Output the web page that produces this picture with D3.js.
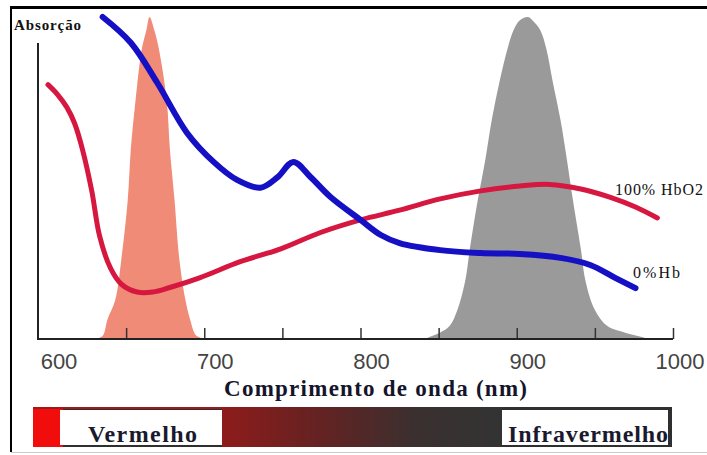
<!DOCTYPE html>
<html>
<head>
<meta charset="utf-8">
<script src="https://cdn.jsdelivr.net/npm/d3@7"></script>
<style>
  body { margin: 0; background: #fff; }
  svg { display: block; }
</style>
</head>
<body>
<div id="chart"></div>
<script>
// LED emission spectra (nm, relative intensity)
const redLed = [[630,0],[635,1],[638,6],[643,12],[647,25],[651,43],[653,59],[656,74],[660,90],[663,96],[665,100],
  [668,96],[671,90],[676,74],[678,59],[681,43],[684,25],[688,12],[691,6],[695,1],[702,0]];
const irLed = [[841,0],[851,2],[857,4],[862,9],[867,18],[870,28],[875,43],[880,56],[884,68],[889,80],[894,90],
  [898,96],[902,99],[907,100],[910,99],[915,96],[919,90],[923,80],[928,68],[932,56],[936,43],[941,28],
  [944,18],[950,9],[958,4],[969,2],[985,0]];

// absorption curves (nm, arbitrary units)
const hbo2 = [[600,79],[606,76],[612,72],[617,67],[622,59],[628,46],[633,32],[640,22],[647,17],[657,14.6],
  [667,14.6],[678,16],[697,19],[723,24],[749,28],[774,33],[800,37],[825,40],[851,43.5],[877,46],
  [902,47.5],[921,48],[941,46.6],[960,44],[976,41],[990,37.6]];
const hb = [[635,100],[653,92],[670,79.5],[689,64],[706,55],[721,49.4],[736,47],[747,50.3],[757,55],
  [768,50.3],[781,44],[800,37],[813,32.3],[825,29.8],[851,27.6],[877,26.7],[902,26.4],[928,25.2],
  [947,23],[963,19],[976,15.8]];

const tickNm = [650,700,750,800,850,900,950,1000];
const labelNm = [600,700,800,900,1000];

const width = 707, height = 455;

const svg = d3.select("#chart").append("svg")
  .attr("width", width).attr("height", height);

const x = d3.scaleLinear().domain([600, 1000]).range([48, 673]);
const y = d3.scaleLinear().domain([0, 100]).range([339, 17]);

// frame
svg.append("line").attr("x1", 11).attr("x2", 707).attr("y1", 7.5).attr("y2", 7.5)
  .attr("stroke", "#000").attr("stroke-width", 3);
svg.append("line").attr("x1", 11).attr("x2", 11).attr("y1", 6).attr("y2", 452)
  .attr("stroke", "#000").attr("stroke-width", 2);
svg.append("line").attr("x1", 11).attr("x2", 707).attr("y1", 452.5).attr("y2", 452.5)
  .attr("stroke", "#ccc").attr("stroke-width", 1);

// LED spectra
const area = d3.area()
  .x(d => x(d[0])).y0(y(0)).y1(d => y(d[1]))
  .curve(d3.curveCatmullRom);

svg.append("path").datum(redLed).attr("d", area).attr("fill", "#ef8b76");
svg.append("path").datum(irLed).attr("d", area).attr("fill", "#9a9a9a");

// axes
const xAxis = svg.append("g")
  .attr("transform", `translate(0,${y(0)})`)
  .call(d3.axisBottom(x).tickValues(tickNm).tickSize(-11).tickFormat(""));
xAxis.select(".domain").remove();
xAxis.selectAll(".tick line").attr("stroke", "#333").attr("stroke-width", 1.5);

svg.append("line").attr("x1", 38).attr("x2", 673).attr("y1", y(0)).attr("y2", y(0))
  .attr("stroke", "#222").attr("stroke-width", 2);
svg.append("line").attr("x1", 38).attr("x2", 38).attr("y1", 43).attr("y2", y(0) + 1)
  .attr("stroke", "#222").attr("stroke-width", 2);

svg.selectAll(".xlab").data(labelNm).enter().append("text")
  .attr("class", "xlab")
  .attr("x", d => d === 1000 ? x(d) + 7 : x(d) + 11)
  .attr("y", 369)
  .attr("text-anchor", "middle")
  .style("font-family", "Liberation Sans, Arial, sans-serif")
  .style("font-size", "22px")
  .attr("fill", "#444")
  .text(d => d);

// absorption curves
const line = d3.line().x(d => x(d[0])).y(d => y(d[1])).curve(d3.curveCatmullRom);

svg.append("path").datum(hbo2).attr("d", line)
  .attr("fill", "none").attr("stroke", "#d6173f").attr("stroke-width", 5)
  .attr("stroke-linecap", "round");
svg.append("path").datum(hb).attr("d", line)
  .attr("fill", "none").attr("stroke", "#1510c4").attr("stroke-width", 6)
  .attr("stroke-linecap", "round");

// labels
const serif = "Liberation Serif, Times New Roman, serif";
svg.append("text").attr("x", 14).attr("y", 30).attr("textLength", 67)
  .style("font-family", serif).style("font-size", "15px").style("font-weight", "bold")
  .attr("fill", "#111").text("Absorção");

svg.append("text").attr("x", 615).attr("y", 195).attr("textLength", 88)
  .style("font-family", serif).style("font-size", "16px")
  .attr("fill", "#111").text("100% HbO2");
svg.append("text").attr("x", 633).attr("y", 278).attr("textLength", 47)
  .style("font-family", serif).style("font-size", "16px")
  .attr("fill", "#111").text("0%Hb");

svg.append("text").attr("x", 224).attr("y", 396).attr("textLength", 303)
  .style("font-family", serif).style("font-size", "23px").style("font-weight", "bold")
  .attr("fill", "#14142a").text("Comprimento de onda (nm)");

// spectrum bar
const defs = svg.append("defs");
const grad = defs.append("linearGradient").attr("id", "spec");
grad.append("stop").attr("offset", "0%").attr("stop-color", "#8e1b1b");
grad.append("stop").attr("offset", "35%").attr("stop-color", "#642222");
grad.append("stop").attr("offset", "70%").attr("stop-color", "#3a3030");
grad.append("stop").attr("offset", "100%").attr("stop-color", "#333");

svg.append("rect").attr("x", 33).attr("y", 407).attr("width", 639).attr("height", 40)
  .attr("fill", "#2f2f2f");
svg.append("rect").attr("x", 33).attr("y", 407).attr("width", 30).attr("height", 40)
  .attr("fill", "#f20d0d");
svg.append("rect").attr("x", 222).attr("y", 407).attr("width", 280).attr("height", 40)
  .attr("fill", "url(#spec)");
svg.append("rect").attr("x", 60).attr("y", 410).attr("width", 162).attr("height", 35)
  .attr("fill", "#fff");
svg.append("rect").attr("x", 502).attr("y", 410).attr("width", 166).attr("height", 35)
  .attr("fill", "#fff");
svg.append("line").attr("x1", 33).attr("x2", 222).attr("y1", 408).attr("y2", 408)
  .attr("stroke", "#a01818").attr("stroke-width", 2);

svg.append("text").attr("x", 88).attr("y", 442).attr("textLength", 109)
  .style("font-family", serif).style("font-size", "24px").style("font-weight", "bold")
  .attr("fill", "#1a1a2e").text("Vermelho");
svg.append("text").attr("x", 508).attr("y", 442).attr("textLength", 160)
  .style("font-family", serif).style("font-size", "24px").style("font-weight", "bold")
  .attr("fill", "#1a1a2e").text("Infravermelho");
</script>
</body>
</html>
